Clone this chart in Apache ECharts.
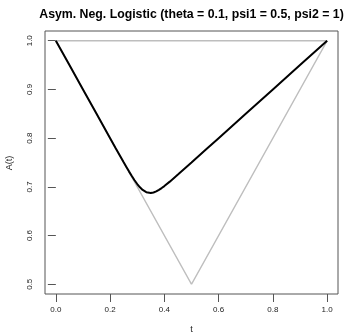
<!DOCTYPE html>
<html><head><meta charset="utf-8">
<script src="https://cdn.jsdelivr.net/npm/echarts@6/dist/echarts.min.js"></script>
<style>html,body{margin:0;padding:0;background:#fff}#c{width:348px;height:333px}</style>
</head><body><div id="c"></div>
<script>
var titleText = 'Asym. Neg. Logistic (theta = 0.1, psi1 = 0.5, psi2 = 1)';
var xTicks = [0, 0.2, 0.4, 0.6, 0.8, 1.0];
var yTicks = [0.5, 0.6, 0.7, 0.8, 0.9, 1.0];
var curveT = [0, 0.05, 0.1, 0.15, 0.2, 0.22, 0.24, 0.25, 0.26, 0.27, 0.28, 0.29, 0.3, 0.31, 0.32, 0.3333, 0.34, 0.35, 0.36, 0.37, 0.38, 0.39, 0.4, 0.42, 0.45, 0.5, 0.55, 0.6, 0.7, 0.8, 0.9, 1.0];
var curveA = [1, 0.95, 0.9, 0.85, 0.8, 0.78, 0.7602, 0.7504, 0.7408, 0.7313, 0.7222, 0.7136, 0.7058, 0.6990, 0.6936, 0.6890, 0.6878, 0.6874, 0.6885, 0.6907, 0.6938, 0.6975, 0.7016, 0.7107, 0.7252, 0.75, 0.775, 0.8, 0.85, 0.9, 0.95, 1];
var lowerT = [0, 0.5, 1];
var lowerA = [1, 0.5, 1];
var upperT = [0, 1];
var upperA = [1, 1];

function pairs(xs, ys){ return xs.map(function(x,i){return [x, ys[i]];}); }

var chart = echarts.init(document.getElementById('c'), null, {renderer:'canvas'});
var font = 'Liberation Sans, Arial, Helvetica, sans-serif';
chart.setOption({
  animation:false,
  backgroundColor:'#fff',
  grid:{left:45, right:10, top:31, bottom:39, show:true, borderColor:'#555', borderWidth:1, backgroundColor:'transparent'},
  xAxis:{type:'value', min:-0.04, max:1.04,
    axisLine:{show:false}, splitLine:{show:false},
    axisTick:{show:true, customValues:xTicks, length:8, lineStyle:{color:'#555'}},
    axisLabel:{show:true, customValues:xTicks, margin:12, fontSize:8, color:'#222', fontFamily:font,
      formatter:function(v){return v.toFixed(1);}}
  },
  yAxis:{type:'value', min:0.48, max:1.02,
    axisLine:{show:false}, splitLine:{show:false},
    axisTick:{show:true, customValues:yTicks, length:8, lineStyle:{color:'#555'}},
    axisLabel:{show:true, customValues:yTicks, margin:11, fontSize:8, color:'#222', fontFamily:font, rotate:90,
      formatter:function(v){return v.toFixed(1);}}
  },
  graphic:[
    {type:'text', x:191.5, y:15, style:{text:titleText, font:'bold 12.3px '+font, fill:'#000', align:'center', verticalAlign:'middle'}},
    {type:'text', x:191.5, y:330, style:{text:'t', font:'9px '+font, fill:'#222', align:'center', verticalAlign:'middle'}},
    {type:'text', x:10, y:163, rotation:Math.PI/2, style:{text:'A(t)', font:'9px '+font, fill:'#222', align:'center', verticalAlign:'middle'}}
  ],
  series:[
    {type:'line', data:pairs(upperT, upperA), symbol:'none', lineStyle:{color:'#bebebe', width:1.5}, silent:true},
    {type:'line', data:pairs(lowerT, lowerA), symbol:'none', lineStyle:{color:'#bebebe', width:1.5}, silent:true},
    {type:'line', data:pairs(curveT, curveA), symbol:'none', smooth:false, lineStyle:{color:'#000', width:2}, silent:true}
  ]
});
</script></body></html>
